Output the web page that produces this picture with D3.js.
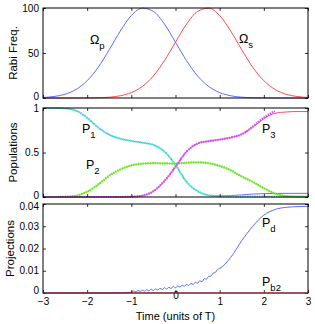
<!DOCTYPE html>
<html>
<head>
<meta charset="utf-8">
<script src="https://cdn.jsdelivr.net/npm/d3@7"></script>
<style>
body { margin: 0; background: #fff; }
text { font-family: "Liberation Sans", Arial, sans-serif; }
</style>
</head>
<body>
<svg id="chart" width="315" height="324"></svg>
<script>
// time grid (units of T)
var time = [-3, -2.75, -2.5, -2.25, -2, -1.75, -1.5, -1.25, -1, -0.75, -0.5, -0.25, 0,
	0.25, 0.5, 0.75, 1, 1.25, 1.5, 1.75, 2, 2.25, 2.5, 2.75, 3];

// top panel: Rabi frequencies
var omegaP = [0.6, 1.7, 4.2, 9.6, 19.2, 34.1, 53.6, 74.4, 91.6, 99.8, 96.2, 82.1, 62.0,
	41.5, 24.5, 12.9, 6.0, 2.5, 0.9, 0.3, 0.1, 0, 0, 0, 0];
var omegaS = [0, 0, 0, 0, 0.1, 0.3, 0.9, 2.5, 6.0, 12.9, 24.5, 41.5, 62.0,
	82.1, 96.2, 99.8, 91.6, 74.4, 53.6, 34.1, 19.2, 9.6, 4.2, 1.7, 0.6];

// middle panel: populations (dotted = P1, P2, P3; solid = other model)
var pop1 = [1.0, 1.0, 0.995, 0.97, 0.89, 0.78, 0.70, 0.655, 0.63, 0.61, 0.585, 0.51, 0.36,
	0.17, 0.065, 0.02, 0.008, 0.005, 0.005, 0.005, 0.005, 0.005, 0.005, 0.005, 0.005];
var pop2 = [0, 0, 0.003, 0.015, 0.06, 0.14, 0.24, 0.31, 0.355, 0.375, 0.38, 0.378, 0.375,
	0.385, 0.39, 0.38, 0.35, 0.30, 0.23, 0.17, 0.10, 0.04, 0.01, 0.002, 0];
var pop3 = [0, 0, 0, 0, 0, 0, 0, 0, 0.003, 0.015, 0.065, 0.18, 0.34,
	0.51, 0.60, 0.628, 0.645, 0.668, 0.705, 0.79, 0.89, 0.965, null, null, null];
var pop3Line = [0, 0, 0, 0, 0, 0, 0, 0, 0.003, 0.015, 0.065, 0.18, 0.34,
	0.51, 0.60, 0.628, 0.645, 0.668, 0.705, 0.785, 0.88, 0.94, 0.955, 0.96, 0.96];
var pop1Line = [1.0, 1.0, 0.995, 0.97, 0.89, 0.78, 0.70, 0.655, 0.63, 0.61, 0.585, 0.51, 0.36,
	0.17, 0.065, 0.02, 0.012, 0.016, 0.024, 0.033, 0.038, 0.04, 0.041, 0.041, 0.041];

// bottom panel: projections
var pdTime = [-3, -2, -1.5, -1.2, -1.0, -0.95, -0.9, -0.85, -0.8, -0.75, -0.7, -0.65, -0.6,
	-0.55, -0.5, -0.45, -0.4, -0.35, -0.3, -0.25, -0.2, -0.15, -0.1, -0.05, 0,
	0.05, 0.1, 0.15, 0.2, 0.25, 0.3, 0.35, 0.4, 0.45, 0.5, 0.55, 0.6, 0.65, 0.7,
	0.75, 0.8, 0.85, 0.9, 0.95, 1.0, 1.25, 1.5, 1.75, 2, 2.25, 2.5, 2.75, 3];
var pd = [0, 0, 0, 0.0001, 0.0004, 0.0009, 0.0006, 0.0011, 0.0007, 0.0013, 0.0008, 0.0015, 0.0009,
	0.0017, 0.0011, 0.0019, 0.0013, 0.0021, 0.0015, 0.0024, 0.0017, 0.0026, 0.0020, 0.0029, 0.0023,
	0.0032, 0.0026, 0.0035, 0.0030, 0.0039, 0.0034, 0.0043, 0.0038, 0.0048, 0.0044, 0.0055, 0.0051, 0.0064, 0.0062,
	0.0075, 0.0076, 0.0089, 0.0092, 0.0106, 0.0110, 0.016, 0.0235, 0.030, 0.035, 0.0375, 0.0385, 0.0388, 0.039];
var pb2 = [0, 0, 0, 0, 0, 0, 0, 0, 0, 0, 0, 0, 0, 0, 0, 0, 0, 0, 0, 0, 0, 0, 0, 0, 0];

// ticks
var xTicks = [-3, -2, -1, 0, 1, 2, 3];
var yTicksTop = [0, 50, 100];
var yTicksMid = [0, 0.5, 1];
var yTicksBot = [0, 0.01, 0.02, 0.03, 0.04];
var yLabelsBot = ["0", "0.01", "0.02", "0.03", "0.04"];

var svg = d3.select("#chart");
var left = 43, right = 308;

var x = d3.scaleLinear().domain([-3, 3]).range([left, right]);

var panels = [
	{ top: 8, bottom: 98, domain: [0, 100], ticks: yTicksTop, fmt: function(d) { return d; }, label: "Rabi Freq.", labelX: 13 },
	{ top: 108, bottom: 197, domain: [0, 1], ticks: yTicksMid, fmt: function(d) { return d; }, label: "Populations", labelX: 13 },
	{ top: 204, bottom: 293, domain: [0, 0.04], ticks: yTicksBot, fmt: function(d, i) { return yLabelsBot[i]; }, label: "Projections", labelX: 10 }
];

panels.forEach(function(p) {
	p.y = d3.scaleLinear().domain(p.domain).range([p.bottom, p.top]);
});

function drawLine(p, xs, ys, color, width, dash) {
	var pts = xs.map(function(t, i) { return [t, ys[i]]; });
	var line = d3.line()
		.defined(function(d) { return d[1] !== null; })
		.x(function(d) { return x(d[0]); })
		.y(function(d) { return p.y(d[1]); })
		.curve(d3.curveMonotoneX);
	var path = svg.append("path")
		.attr("d", line(pts))
		.attr("fill", "none")
		.attr("stroke", color)
		.attr("stroke-width", width);
	if (dash) path.attr("stroke-dasharray", dash);
	return path;
}

// top
var p0 = panels[0], p1 = panels[1], p2 = panels[2];
drawLine(p0, time, omegaP, "#5a6cff", 1);
drawLine(p0, time, omegaS, "#ff4a4a", 1);

// middle
drawLine(p1, time, pop2, "#7cf040", 1);
drawLine(p1, time, pop1Line, "#6070ff", 1);
drawLine(p1, time, pop3Line, "#ff4a5a", 1);
drawLine(p1, time, pop1, "#55e6d8", 2.2, "1.6,0.8");
drawLine(p1, time, pop2, "#6ee625", 2.2, "1.6,0.8");
drawLine(p1, time, pop3, "#c855ff", 2.2, "1.6,0.8");

// bottom
drawLine(p2, pdTime, pd, "#5a6cff", 1);

// axes boxes and ticks
panels.forEach(function(p, k) {
	var g = svg.append("g");

	g.append("g")
		.attr("transform", "translate(" + left + ",0)")
		.call(d3.axisLeft(p.y).tickValues(p.ticks).tickSize(-3).tickPadding(4).tickFormat(p.fmt));
	g.append("g")
		.attr("transform", "translate(" + right + ",0)")
		.call(d3.axisRight(p.y).tickValues(p.ticks).tickSize(-3).tickFormat(""));
	g.append("g")
		.attr("transform", "translate(0," + p.top + ")")
		.call(d3.axisTop(x).tickValues(xTicks).tickSize(-3).tickFormat(""));
	g.append("g")
		.attr("transform", "translate(0," + p.bottom + ")")
		.call(d3.axisBottom(x).tickValues(xTicks).tickSize(-3).tickPadding(5)
			.tickFormat(k === 2 ? d3.format("") : ""));

	g.selectAll(".domain").remove();
	g.selectAll(".tick line").attr("stroke", "#000").attr("stroke-width", 0.8);
	g.selectAll(".tick text").attr("font-size", 10).attr("fill", "#000")
		.attr("font-family", "Liberation Sans, Arial, sans-serif");

	// keep the end labels of neighbouring panels apart
	if (k < 2) {
		g.selectAll(".tick text").filter(function(d) { return d === 0; }).attr("dy", "0.1em");
	} else {
		g.selectAll(".tick text").filter(function(d) { return d === 0.04; }).attr("dy", "0.55em");
		g.selectAll(".tick text").filter(function(d) { return d === 0; }).attr("dy", "0.05em");
	}

	g.append("rect")
		.attr("x", left).attr("y", p.top)
		.attr("width", right - left).attr("height", p.bottom - p.top)
		.attr("fill", "none").attr("stroke", "#000").attr("stroke-width", 1);

	svg.append("text")
		.attr("transform", "translate(" + p.labelX + "," + ((p.top + p.bottom) / 2) + ") rotate(-90)")
		.attr("text-anchor", "middle")
		.attr("dy", "0.35em")
		.attr("font-size", 11.5)
		.text(p.label);
});

// Pb2 line sits on the bottom axis
drawLine(p2, time, pb2, "#b8283c", 1.2);

svg.append("text")
	.attr("x", (left + right) / 2)
	.attr("y", 320)
	.attr("text-anchor", "middle")
	.attr("font-size", 11)
	.text("Time (units of T)");

// curve labels
var labels = [
	{ x: 90, y: 44, main: "\u03a9", sub: "p" },
	{ x: 239, y: 43, main: "\u03a9", sub: "s" },
	{ x: 82, y: 133, main: "P", sub: "1" },
	{ x: 86, y: 169, main: "P", sub: "2" },
	{ x: 262, y: 133, main: "P", sub: "3" },
	{ x: 262, y: 227, main: "P", sub: "d" },
	{ x: 262, y: 286, main: "P", sub: "b2" }
];
labels.forEach(function(l) {
	var t = svg.append("text")
		.attr("x", l.x).attr("y", l.y)
		.attr("font-size", 12.5);
	t.append("tspan").text(l.main);
	t.append("tspan").attr("dy", 5).attr("font-size", 9.5).text(l.sub);
});
</script>
</body>
</html>
